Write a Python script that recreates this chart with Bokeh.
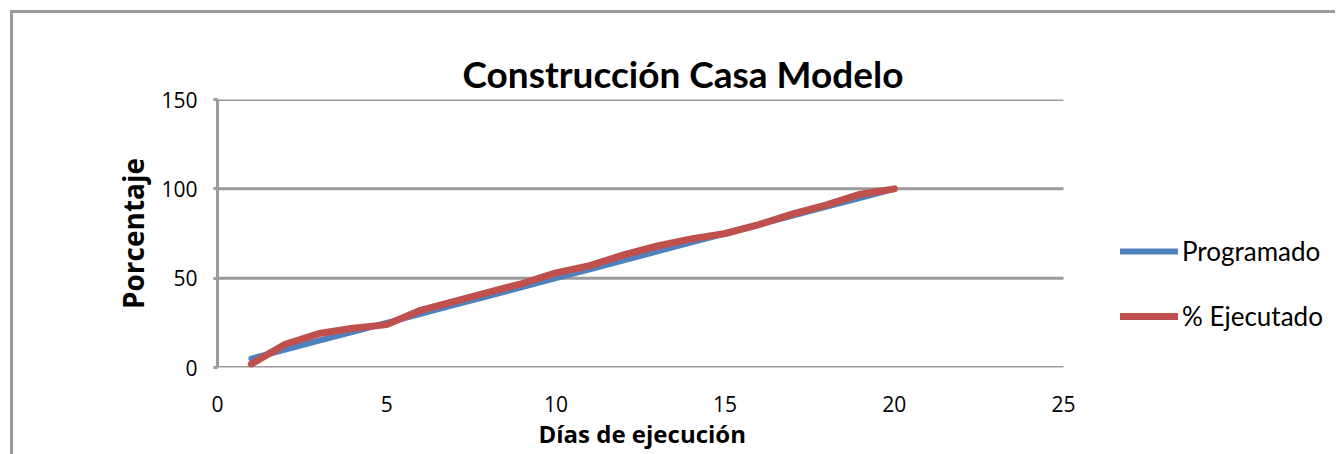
from bokeh.plotting import figure
from bokeh.models import Range1d, FixedTicker, Legend, LegendItem, Title
from bokeh.embed import file_html
from bokeh.resources import INLINE

dias = list(range(1, 21))
programado = [5, 10, 15, 20, 25, 30, 35, 40, 45, 50, 55, 60, 65, 70, 75, 80, 85, 90, 95, 100]
ejecutado = [2, 13, 19, 22, 24, 32, 37, 42, 47, 53, 57, 63, 68, 72, 75, 80, 86, 91, 97, 100]
x_ticks = [0, 5, 10, 15, 20, 25]
y_ticks = [0, 50, 100, 150]

GRAY = "#9b9b9b"

W, H = 1335, 454
LEFT, TOP, BOTTOM, RIGHT = 217, 99, 87, 5
AXIS_W = 846  # pixel width of the 0..25 axis in the reference
frame_w = W - LEFT - RIGHT
x_end = x_ticks[-1] * frame_w / AXIS_W

p = figure(width=W, height=H, output_backend="svg", toolbar_location=None,
           x_range=Range1d(0, x_end), y_range=Range1d(0, 150))
p.min_border_left = LEFT
p.min_border_right = RIGHT
p.min_border_top = TOP
p.min_border_bottom = BOTTOM
p.background_fill_color = None
p.border_fill_color = None
p.outline_line_color = None
p.styles = {
    "background-color": "white",
    "background-image": "linear-gradient(#9b9b9b, #9b9b9b), linear-gradient(#9b9b9b, #9b9b9b)",
    "background-size": "3px 100%, 100% 3px",
    "background-position": "10px 10px, 10px 10px",
    "background-repeat": "no-repeat, no-repeat",
}

p.title.text = "Construcción Casa Modelo"
p.title.text_font = "Lato"
p.title.text_font_size = "37px"
p.title.text_font_style = "bold"
p.title.text_color = "black"
p.title.align = "left"
p.title.offset = 245
p.title.standoff = 8

p.xgrid.grid_line_color = None
p.ygrid.grid_line_color = None

# horizontal gridlines across the 0..25 axis span
p.segment(x0=[x_ticks[0]] * len(y_ticks), x1=[x_ticks[-1]] * len(y_ticks),
          y0=y_ticks, y1=y_ticks, line_color=GRAY, line_width=3)

p.xaxis.ticker = FixedTicker(ticks=x_ticks)
p.yaxis.ticker = FixedTicker(ticks=y_ticks)
for ax in (p.xaxis[0], p.yaxis[0]):
    ax.axis_line_color = GRAY
    ax.axis_line_width = 3
    ax.major_tick_line_color = GRAY
    ax.major_tick_line_width = 3
    ax.major_tick_in = 0
    ax.major_tick_out = 4
    ax.minor_tick_line_color = None
    ax.major_label_text_font = "Open Sans"
    ax.major_label_text_font_size = "21px"
    ax.major_label_text_color = "black"
    ax.axis_label_text_font = "Open Sans"
    ax.axis_label_text_font_style = "bold"
    ax.axis_label_text_color = "black"
p.xaxis.axis_line_color = None
p.xaxis.major_tick_out = 0
p.xaxis.major_label_standoff = 28
p.yaxis.major_label_standoff = 16
p.yaxis.axis_label = "Porcentaje"
p.yaxis.axis_label_text_font_size = "28px"
p.yaxis.axis_label_standoff = 6

xlabel = Title(text="Días de ejecución", text_font="Open Sans", text_font_size="24px",
               text_font_style="bold", text_color="black", align="left",
               offset=321, standoff=0)
p.add_layout(xlabel, "below")

r1 = p.line(dias, programado, line_color="#4f81bd", line_width=6, line_cap="round", line_join="round")
r2 = p.line(dias, ejecutado, line_color="#c0504d", line_width=7, line_cap="round", line_join="round")

legend = Legend(items=[LegendItem(label="Programado", renderers=[r1]),
                       LegendItem(label="% Ejecutado", renderers=[r2])],
                location=(903, 35))
legend.border_line_color = None
legend.background_fill_alpha = 0
legend.margin = 0
legend.padding = 0
legend.spacing = 33
legend.glyph_width = 58
legend.glyph_height = 30
legend.label_standoff = 4
legend.label_text_font = "Lato"
legend.label_text_font_size = "26px"
legend.label_text_color = "black"
p.add_layout(legend)

open("out.html", "w").write(file_html(p, INLINE))
